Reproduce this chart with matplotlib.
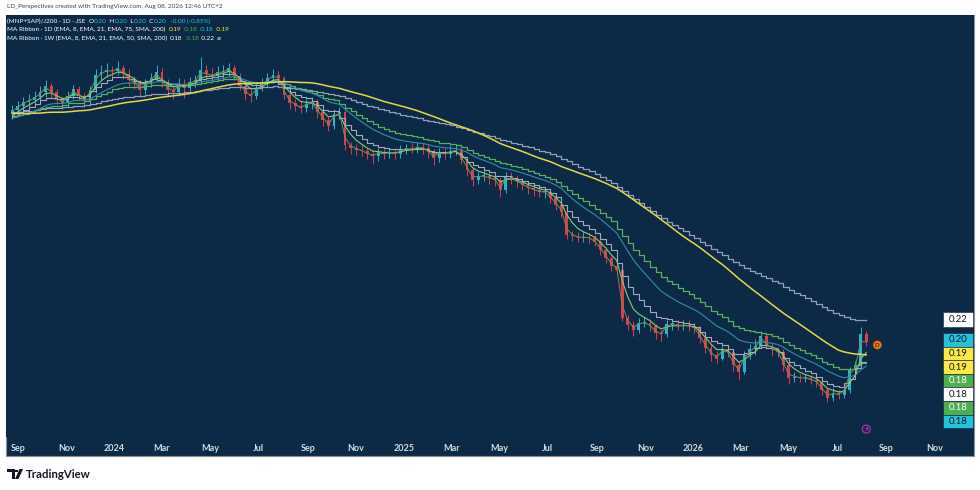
import numpy as np
import pandas as pd
import matplotlib
matplotlib.use("Agg")
import matplotlib.pyplot as plt
import matplotlib.dates as mdates
from matplotlib.ticker import NullLocator
from matplotlib.patches import Rectangle, Polygon

plt.rcParams['font.family'] = ['Lato', 'DejaVu Sans']

# ---------------- data (weekly bars) ----------------
week_end = pd.date_range(end="2026-08-07", periods=155, freq="W-FRI")

# closes before the visible window, estimated from where the averages start
pre_closes = [
    0.526, 0.533, 0.524, 0.517, 0.528, 0.521, 0.512, 0.519, 0.526, 0.515,
    0.508, 0.501, 0.494, 0.503, 0.497, 0.490, 0.499, 0.505, 0.494, 0.488,
    0.497, 0.499, 0.503, 0.494, 0.488, 0.497, 0.501, 0.492, 0.486, 0.494,
    0.499, 0.490, 0.484, 0.490, 0.471, 0.463, 0.469, 0.477, 0.488, 0.497,
]

opens = [
    0.497, 0.506, 0.514, 0.522, 0.526, 0.532, 0.543, 0.556, 0.543, 0.526,
    0.520, 0.534, 0.549, 0.534, 0.524, 0.548, 0.581, 0.589, 0.593, 0.591,
    0.598, 0.584, 0.570, 0.561, 0.548, 0.561, 0.574, 0.589, 0.565, 0.548,
    0.543, 0.561, 0.552, 0.565, 0.570, 0.593, 0.584, 0.579, 0.589, 0.589,
    0.598, 0.579, 0.556, 0.539, 0.534, 0.552, 0.561, 0.574, 0.581, 0.574,
    0.537, 0.520, 0.514, 0.509, 0.518, 0.522, 0.501, 0.486, 0.474, 0.497,
    0.501, 0.439, 0.434, 0.431, 0.429, 0.424, 0.420, 0.427, 0.424, 0.427,
    0.424, 0.431, 0.434, 0.432, 0.436, 0.434, 0.427, 0.417, 0.427, 0.424,
    0.429, 0.431, 0.414, 0.398, 0.382, 0.388, 0.388, 0.385, 0.382, 0.367,
    0.388, 0.385, 0.379, 0.374, 0.370, 0.367, 0.364, 0.364, 0.355, 0.346,
    0.336, 0.307, 0.305, 0.303, 0.304, 0.303, 0.298, 0.289, 0.280, 0.271,
    0.267, 0.220, 0.214, 0.210, 0.216, 0.216, 0.213, 0.207, 0.206, 0.215,
    0.215, 0.213, 0.214, 0.213, 0.211, 0.203, 0.195, 0.190, 0.187, 0.194,
    0.192, 0.182, 0.177, 0.190, 0.194, 0.197, 0.205, 0.197, 0.194, 0.192,
    0.182, 0.173, 0.174, 0.173, 0.173, 0.172, 0.170, 0.165, 0.160, 0.163,
    0.162, 0.165, 0.179, 0.182, 0.206,
]

highs = [
    0.515, 0.524, 0.533, 0.538, 0.545, 0.557, 0.569, 0.564, 0.550, 0.533,
    0.545, 0.559, 0.557, 0.542, 0.557, 0.595, 0.606, 0.611, 0.603, 0.614,
    0.606, 0.595, 0.579, 0.569, 0.572, 0.587, 0.606, 0.597, 0.572, 0.557,
    0.574, 0.572, 0.577, 0.582, 0.624, 0.606, 0.597, 0.603, 0.606, 0.611,
    0.606, 0.587, 0.564, 0.550, 0.564, 0.574, 0.587, 0.595, 0.592, 0.579,
    0.545, 0.528, 0.524, 0.528, 0.533, 0.528, 0.508, 0.492, 0.508, 0.512,
    0.505, 0.445, 0.441, 0.439, 0.435, 0.430, 0.435, 0.433, 0.435, 0.433,
    0.439, 0.441, 0.443, 0.445, 0.443, 0.439, 0.433, 0.435, 0.435, 0.439,
    0.441, 0.435, 0.418, 0.402, 0.395, 0.397, 0.393, 0.390, 0.385, 0.395,
    0.395, 0.390, 0.385, 0.381, 0.376, 0.373, 0.371, 0.368, 0.359, 0.351,
    0.339, 0.312, 0.310, 0.310, 0.309, 0.307, 0.301, 0.292, 0.282, 0.274,
    0.269, 0.223, 0.217, 0.220, 0.221, 0.219, 0.215, 0.210, 0.218, 0.219,
    0.218, 0.218, 0.218, 0.216, 0.213, 0.205, 0.198, 0.193, 0.197, 0.197,
    0.194, 0.185, 0.193, 0.198, 0.202, 0.209, 0.207, 0.200, 0.196, 0.194,
    0.184, 0.177, 0.176, 0.176, 0.175, 0.174, 0.172, 0.167, 0.166, 0.165,
    0.168, 0.181, 0.185, 0.212, 0.209,
]

lows = [
    0.488, 0.497, 0.505, 0.512, 0.517, 0.524, 0.533, 0.531, 0.517, 0.508,
    0.512, 0.528, 0.526, 0.512, 0.517, 0.542, 0.569, 0.577, 0.577, 0.582,
    0.572, 0.557, 0.550, 0.533, 0.540, 0.555, 0.567, 0.555, 0.533, 0.528,
    0.535, 0.531, 0.545, 0.555, 0.562, 0.572, 0.567, 0.569, 0.574, 0.579,
    0.569, 0.547, 0.526, 0.521, 0.528, 0.545, 0.555, 0.564, 0.562, 0.528,
    0.508, 0.503, 0.499, 0.501, 0.508, 0.490, 0.475, 0.465, 0.469, 0.488,
    0.431, 0.424, 0.422, 0.420, 0.415, 0.408, 0.413, 0.415, 0.417, 0.415,
    0.418, 0.424, 0.426, 0.426, 0.424, 0.417, 0.406, 0.411, 0.415, 0.418,
    0.422, 0.408, 0.388, 0.373, 0.376, 0.380, 0.376, 0.373, 0.357, 0.363,
    0.376, 0.371, 0.367, 0.362, 0.359, 0.357, 0.355, 0.348, 0.339, 0.330,
    0.302, 0.299, 0.298, 0.298, 0.297, 0.293, 0.283, 0.274, 0.266, 0.262,
    0.217, 0.210, 0.205, 0.207, 0.212, 0.209, 0.202, 0.201, 0.204, 0.210,
    0.210, 0.210, 0.209, 0.207, 0.199, 0.191, 0.185, 0.184, 0.186, 0.188,
    0.178, 0.172, 0.176, 0.187, 0.190, 0.195, 0.194, 0.189, 0.188, 0.178,
    0.169, 0.170, 0.170, 0.170, 0.169, 0.167, 0.162, 0.157, 0.158, 0.159,
    0.160, 0.163, 0.177, 0.180, 0.197,
]

closes = [
    0.506, 0.514, 0.522, 0.526, 0.532, 0.543, 0.556, 0.543, 0.526, 0.520,
    0.534, 0.549, 0.534, 0.524, 0.548, 0.581, 0.589, 0.593, 0.591, 0.598,
    0.584, 0.570, 0.561, 0.548, 0.561, 0.574, 0.589, 0.565, 0.548, 0.543,
    0.561, 0.552, 0.565, 0.570, 0.593, 0.584, 0.579, 0.589, 0.589, 0.598,
    0.579, 0.556, 0.539, 0.534, 0.552, 0.561, 0.574, 0.581, 0.574, 0.537,
    0.520, 0.514, 0.509, 0.518, 0.522, 0.501, 0.486, 0.474, 0.497, 0.501,
    0.439, 0.434, 0.431, 0.429, 0.424, 0.420, 0.427, 0.424, 0.427, 0.424,
    0.431, 0.434, 0.432, 0.436, 0.434, 0.427, 0.417, 0.427, 0.424, 0.429,
    0.431, 0.414, 0.398, 0.382, 0.388, 0.388, 0.385, 0.382, 0.367, 0.388,
    0.385, 0.379, 0.374, 0.370, 0.367, 0.364, 0.364, 0.355, 0.346, 0.336,
    0.307, 0.305, 0.303, 0.304, 0.303, 0.298, 0.289, 0.280, 0.271, 0.267,
    0.220, 0.214, 0.210, 0.216, 0.216, 0.213, 0.207, 0.206, 0.215, 0.215,
    0.213, 0.214, 0.213, 0.211, 0.203, 0.195, 0.190, 0.187, 0.194, 0.192,
    0.182, 0.177, 0.190, 0.194, 0.197, 0.205, 0.197, 0.194, 0.192, 0.182,
    0.173, 0.174, 0.173, 0.173, 0.172, 0.170, 0.165, 0.160, 0.163, 0.162,
    0.165, 0.179, 0.182, 0.206, 0.200,
]

tick_dates = ["2023-09-01", "2023-11-01", "2024-01-01", "2024-03-01", "2024-05-01",
              "2024-07-01", "2024-09-01", "2024-11-01", "2025-01-01", "2025-03-01",
              "2025-05-01", "2025-07-01", "2025-09-01", "2025-11-01", "2026-01-01",
              "2026-03-01", "2026-05-01", "2026-07-01", "2026-09-01", "2026-11-01"]
tick_labels = ["Sep", "Nov", "2024", "Mar", "May", "Jul", "Sep", "Nov", "2025", "Mar",
               "May", "Jul", "Sep", "Nov", "2026", "Mar", "May", "Jul", "Sep", "Nov"]

tag_values = ["0.22", "0.20", "0.19", "0.19", "0.18", "0.18", "0.18", "0.18"]
tag_kinds = ["white", "cyan", "yellow", "yellow", "green", "white", "green", "cyan"]

# ---------------- colours ----------------
BG = "#0c2a45"
UP = "#2ab3d1"
DOWN = "#de3a50"
TXT = "#d6d9e0"
CYAN = "#26c6da"
YELLOW = "#ffeb3b"
GREEN = "#4caf50"
WHITE = "#ffffff"
TAG_BG = {"white": "#ffffff", "cyan": "#22c2dc", "yellow": "#fbe845", "green": "#4caf50"}
TAG_FG = {"white": "#131722", "cyan": "#131722", "yellow": "#131722", "green": "#ffffff"}

# ---------------- moving averages ----------------
n_pre = len(pre_closes)
full = pd.Series(pre_closes + closes)
d_ema8 = full.ewm(span=8 / 5, adjust=False).mean().values[n_pre:]
d_ema21 = full.ewm(span=21 / 5, adjust=False).mean().values[n_pre:]
d_ema75 = full.ewm(span=75 / 5, adjust=False).mean().values[n_pre:]
d_sma200 = full.rolling(40, min_periods=1).mean().values[n_pre:]
w_ema8 = full.ewm(span=8, adjust=False).mean().values[n_pre:]
w_ema21 = full.ewm(span=21, adjust=False).mean().values[n_pre:]
w_ema50 = full.ewm(span=50, adjust=False).mean().values[n_pre:]

W, H = 980, 490
fig = plt.figure(figsize=(W / 100, H / 100), dpi=100, facecolor="white")


def fx(px):
    return px / W


def fy(py):
    return 1 - py / H


# dark pane behind the chart and the date strip
fig.patches.append(Rectangle((fx(6), fy(456)), fx(968), 441 / H, transform=fig.transFigure,
                             facecolor=BG, edgecolor="#8c909b", lw=0.8, zorder=-5))

ax = fig.add_axes([fx(6), fy(437), fx(968), (437 - 15) / H])
ax.set_facecolor(BG)
for s in ax.spines.values():
    s.set_visible(False)

x = mdates.date2num(week_end)
o = np.array(opens)
h = np.array(highs)
l = np.array(lows)
c = np.array(closes)
cols = np.where(c >= o, UP, DOWN)

ax.set_yscale("log")
ax.vlines(x, l, h, colors=cols, lw=0.7, zorder=2)
body_lo = np.minimum(o, c)
body_hi = np.maximum(np.maximum(o, c), body_lo * 1.004)
ax.bar(x, body_hi - body_lo, bottom=body_lo, width=3.6, color=cols, lw=0, zorder=2)

ax.plot(x, w_ema50, color="#959cbb", lw=0.9, drawstyle="steps-pre", zorder=3)
ax.plot(x, w_ema21, color="#5aae5c", lw=0.9, drawstyle="steps-pre", zorder=3)
ax.plot(x, w_ema8, color="#a2a8c4", lw=0.8, drawstyle="steps-pre", zorder=3)
ax.plot(x, d_sma200, color="#e6d54c", lw=1.1, zorder=4)
ax.plot(x, d_ema75, color="#2f8db3", lw=0.8, zorder=3)
ax.plot(x, d_ema21, color="#84cf6c", lw=0.8, zorder=3)
ax.plot(x, d_ema8, color="#7d8a4c", lw=0.7, zorder=3)

ax.set_xlim(mdates.date2num(pd.Timestamp("2023-08-17")), mdates.date2num(pd.Timestamp("2026-12-21")))
ax.set_ylim(0.1367, 0.7393)
ax.set_yticks([])
ax.yaxis.set_minor_locator(NullLocator())
ax.set_xticks(mdates.date2num(pd.to_datetime(tick_dates)))
ax.set_xticklabels(tick_labels, color=TXT, fontsize=6.5, fontweight="bold")
ax.tick_params(axis="x", length=0, pad=5)

# dividend and event markers
ax.annotate("D", xy=(mdates.date2num(pd.Timestamp("2026-08-21")), 0.1975), ha="center", va="center",
            fontsize=4.5, fontweight="bold", color="#4a1e00",
            bbox=dict(boxstyle="circle,pad=0.25", fc="#f07f1a", ec="#b85a10", lw=0.6), zorder=6)
ax.annotate("\u26a1", xy=(mdates.date2num(pd.Timestamp("2026-08-07")), 0.1411), ha="center", va="center",
            fontsize=4.5, color="#e060f0", family=["DejaVu Sans"],
            bbox=dict(boxstyle="circle,pad=0.25", fc="#3b1b55", ec="#b040c8", lw=0.7), zorder=6)


# header lines with coloured values
def write_parts(x_px, y_px, parts, size):
    t = ax.annotate(parts[0][0], xy=(x_px, H - y_px), xycoords="figure pixels",
                    ha="left", va="center", color=parts[0][1], fontsize=size)
    for s, col in parts[1:]:
        t = ax.annotate(s, xy=(1, 0.5), xycoords=t, ha="left", va="center",
                        color=col, fontsize=size)


write_parts(7, 6.5, [("LD_Perspectives created with TradingView.com, Aug 08, 2026 12:46 UTC+2", "#3c3f47")], 4.6)
write_parts(7, 21, [("(MNP+SAP)/J200 \u00b7 1D \u00b7 JSE  ", WHITE), ("O", WHITE), ("0.20", CYAN),
                    ("  H", WHITE), ("0.20", CYAN), ("  L", WHITE), ("0.20", CYAN),
                    ("  C", WHITE), ("0.20", CYAN), ("  -0.00 (-0.85%)", CYAN)], 4.6)
write_parts(7, 29.5, [("MA Ribbon \u00b7 1D (EMA, 8, EMA, 21, EMA, 75, SMA, 200)  ", WHITE),
                      ("0.19", YELLOW), ("  0.18", GREEN), ("  0.18", CYAN), ("  0.19", YELLOW)], 4.6)
write_parts(7, 38, [("MA Ribbon \u00b7 1W (EMA, 8, EMA, 21, EMA, 50, SMA, 200)  ", WHITE),
                    ("0.18", WHITE), ("  0.18", GREEN), ("  0.22", WHITE), ("  \u00f8", WHITE)], 4.6)

# price tags on the right edge
tag_tops = [312, 333, 346.6, 360.2, 373.8, 387.4, 401, 414.6]
tag_h = [15, 13.6, 13.6, 13.6, 13.6, 13.6, 13.6, 13.6]
for val, kind, top, hh in zip(tag_values, tag_kinds, tag_tops, tag_h):
    fig.patches.append(Rectangle((fx(943), fy(top + hh)), fx(30), hh / H, transform=fig.transFigure,
                                 facecolor=TAG_BG[kind], edgecolor="#1c2030", lw=0.4, zorder=5))
    fig.text(fx(958), fy(top + hh / 2), val, ha="center", va="center", fontsize=6.8,
             color=TAG_FG[kind], zorder=6)

# TradingView footer logo
fig.patches.append(Polygon([(fx(7), fy(469)), (fx(14.5), fy(469)), (fx(14.5), fy(479)),
                            (fx(11.5), fy(479)), (fx(11.5), fy(472)), (fx(7), fy(472))],
                           closed=True, transform=fig.transFigure, facecolor="#131722", lw=0))
fig.patches.append(Polygon([(fx(19.5), fy(469)), (fx(23), fy(469)), (fx(18.5), fy(479)), (fx(15), fy(479))],
                           closed=True, transform=fig.transFigure, facecolor="#131722", lw=0))
fig.patches.append(Rectangle((fx(15.2), fy(472.2)), fx(2.6), 2.6 / H, transform=fig.transFigure,
                             facecolor="#131722", lw=0))
fig.text(fx(26), fy(474.5), "TradingView", ha="left", va="center", fontsize=8.2,
         fontweight="bold", color="#131722")

fig.savefig("out.png", dpi=100, facecolor="white")
